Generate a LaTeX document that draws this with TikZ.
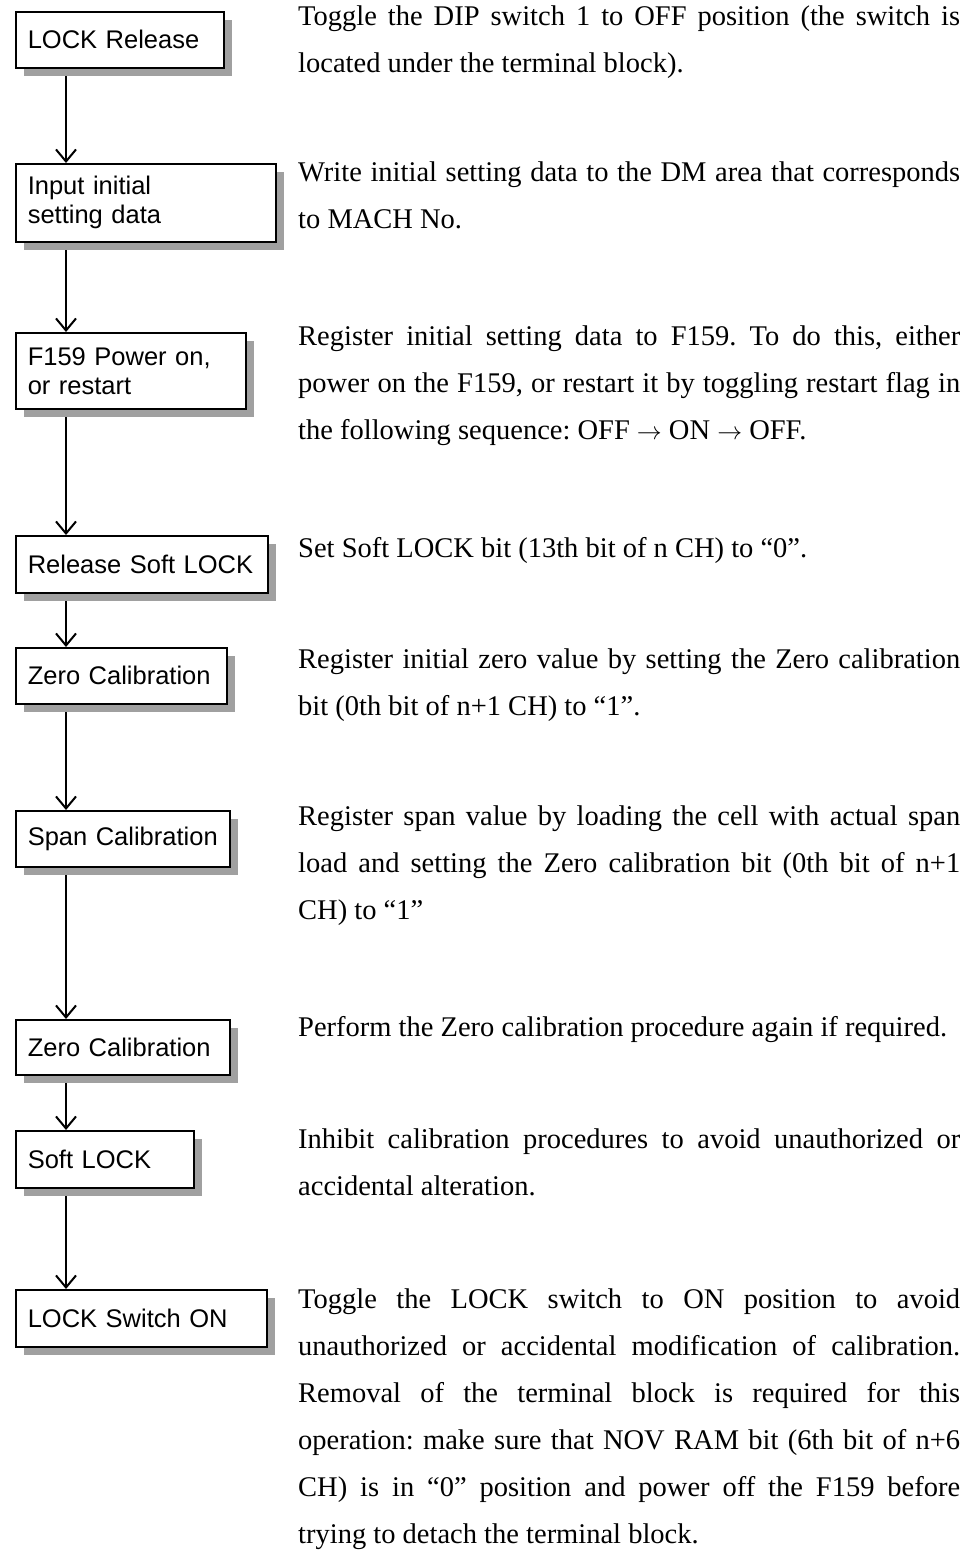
\documentclass[tikz,border=0pt]{standalone}
\usepackage{fontspec}
\setmainfont{Liberation Serif}
\newfontfamily\boxfont{Liberation Sans}
\usepackage{tikz}
\usetikzlibrary{arrows.meta,shadows,backgrounds}
\definecolor{shadowgray}{RGB}{160,160,160}
\frenchspacing
\tikzset{
 stepbox/.style={draw,line width=1.6pt,fill=white,anchor=north west,align=left,
  inner xsep=12pt,inner ysep=0pt,font=\boxfont\fontsize{25.5}{29}\selectfont,
  drop shadow={shadow xshift=8pt,shadow yshift=-8pt,fill=shadowgray,opacity=1}},
 steptext/.style={anchor=base west,inner sep=0pt,text width=662pt,align=justify,
  font=\fontsize{28.5}{47}\selectfont},
 flow/.style={line width=2pt,-{Straight Barb[length=12pt,width=20pt]}}
}

\begin{document}
\begin{tikzpicture}[x=1pt,y=1pt]
 \useasboundingbox (0,0) rectangle (969,-1551);
 \coordinate (spine) at (66,0);
 % flow chart boxes
 \node[stepbox,text width=184,minimum height=56] (lockrel) at (15,-11) {\mbox{LOCK Release}};
 \node[stepbox,text width=236,minimum height=78] (initdata) at (15,-163) {\mbox{Input initial}\\\mbox{setting data}};
 \node[stepbox,text width=206,minimum height=76] (poweron) at (15,-332) {\mbox{F159 Power on,}\\\mbox{or restart}};
 \node[stepbox,text width=228,minimum height=57] (relsoft) at (15,-535) {\mbox{Release Soft LOCK}};
 \node[stepbox,text width=187,minimum height=56] (zerocal) at (15,-647) {\mbox{Zero Calibration}};
 \node[stepbox,text width=190,minimum height=56] (spancal) at (15,-810) {\mbox{Span Calibration}};
 \node[stepbox,text width=190,minimum height=55] (zerocalb) at (15,-1019) {\mbox{Zero Calibration}};
 \node[stepbox,text width=154,minimum height=57] (softlock) at (15,-1130) {\mbox{Soft LOCK}};
 \node[stepbox,text width=227,minimum height=57] (lockon) at (15,-1289) {\mbox{LOCK Switch ON}};
 % connectors, under the shadows
 \begin{scope}[on background layer]
 \draw[flow] (lockrel.south west -| spine) -- (initdata.north west -| spine);
 \draw[flow] (initdata.south west -| spine) -- (poweron.north west -| spine);
 \draw[flow] (poweron.south west -| spine) -- (relsoft.north west -| spine);
 \draw[flow] (relsoft.south west -| spine) -- (zerocal.north west -| spine);
 \draw[flow] (zerocal.south west -| spine) -- (spancal.north west -| spine);
 \draw[flow] (spancal.south west -| spine) -- (zerocalb.north west -| spine);
 \draw[flow] (zerocalb.south west -| spine) -- (softlock.north west -| spine);
 \draw[flow] (softlock.south west -| spine) -- (lockon.north west -| spine);
 \end{scope}
 % descriptions
 \node[steptext] (lockreltxt) at (298,-25) {Toggle the DIP switch 1 to OFF position (the switch is\linebreak located under the terminal block).};
 \node[steptext] (initdatatxt) at (298,-181) {Write initial setting data to the DM area that corresponds\linebreak to MACH No.};
 \node[steptext] (poweron txt) at (298,-345) {Register initial setting data to F159. To do this, either\linebreak power on the F159, or restart it by toggling restart flag in\linebreak the following sequence: OFF $\rightarrow$ ON $\rightarrow$ OFF.};
 \node[steptext] (relsofttxt) at (298,-557) {Set Soft LOCK bit (13th bit of n CH) to “0”.};
 \node[steptext] (zerocaltxt) at (298,-668) {Register initial zero value by setting the Zero calibration\linebreak bit (0th bit of n+1 CH) to “1”.};
 \node[steptext] (spancaltxt) at (298,-825) {Register span value by loading the cell with actual span\linebreak load and setting the Zero calibration bit (0th bit of n+1\linebreak CH) to “1”};
 \node[steptext] (zerocalbtxt) at (298,-1036) {Perform the Zero calibration procedure again if required.};
 \node[steptext] (softlocktxt) at (298,-1148) {Inhibit calibration procedures to avoid unauthorized or\linebreak accidental alteration.};
 \node[steptext] (lockontxt) at (298,-1308) {Toggle the LOCK switch to ON position to avoid\linebreak unauthorized or accidental modification of calibration.\linebreak Removal of the terminal block is required for this\linebreak operation: make sure that NOV RAM bit (6th bit of n+6\linebreak CH) is in “0” position and power off the F159 before\linebreak trying to detach the terminal block.};
\end{tikzpicture}
\end{document}
